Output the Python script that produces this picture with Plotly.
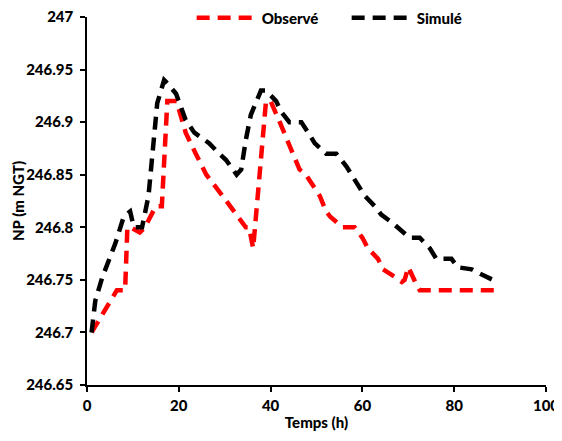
import plotly.graph_objects as go

# Observé (measured)
obs_t = [1, 4.5, 6.5, 8.3, 8.8, 9.5, 11.5, 12.6, 15, 16.3, 17.5, 19.5, 21.5, 23.7, 26, 29.5,
         34.6, 35.3, 36.2, 39, 40, 42, 44, 46.3, 47.7, 49.9, 50.7, 52.1, 53, 55.7, 58.3,
         60, 61.2, 63.4, 64.5, 67, 68.6, 69.2, 70, 71.5, 72.5, 89.5]
obs_v = [246.70, 246.725, 246.74, 246.74, 246.80, 246.80, 246.795, 246.80, 246.82, 246.82,
         246.92, 246.92, 246.89, 246.87, 246.85, 246.83,
         246.80, 246.80, 246.78, 246.92, 246.92, 246.90, 246.88, 246.855, 246.85, 246.835,
         246.83, 246.815, 246.81, 246.80, 246.80,
         246.79, 246.78, 246.77, 246.76, 246.753, 246.748, 246.75, 246.762, 246.748, 246.74, 246.74]

# Simulé (model)
sim_t = [1, 1.8, 3.3, 6.2, 8, 9.4, 10.2, 12, 13.4, 14.2, 15.3, 16.8, 17.5, 19.4, 21.5, 23.4,
         26.6, 28.8, 30.3, 32.6, 33.6, 34.6, 35.7, 37.9, 39, 41.2, 42.3, 44.1, 46.7, 48.5,
         49.6, 52.1, 54.3, 56.5, 59.4, 60.5, 62.7, 64.1, 66.6, 67.7, 70.3, 72.5, 74.7, 76.1,
         79.4, 80.8, 83.8, 86, 88.4, 89.5]
sim_v = [246.70, 246.73, 246.752, 246.785, 246.81, 246.815, 246.80, 246.80, 246.83, 246.864,
         246.918, 246.94, 246.937, 246.927, 246.902, 246.89,
         246.88, 246.87, 246.864, 246.85, 246.855, 246.883, 246.907, 246.93, 246.93, 246.92,
         246.91, 246.90, 246.90, 246.888,
         246.88, 246.87, 246.87, 246.858, 246.838, 246.83, 246.82, 246.812, 246.804, 246.80,
         246.79, 246.79, 246.78, 246.77,
         246.77, 246.762, 246.76, 246.755, 246.75, 246.75]

x_ticks = [0, 20, 40, 60, 80, 100]
y_ticks = [246.65, 246.7, 246.75, 246.8, 246.85, 246.9, 246.95, 247]
y_labels = ["246.65", "246.7", "246.75", "246.8", "246.85", "246.9", "246.95", "247"]

FONT = "Lato"
W = 900

fig = go.Figure()
fig.add_trace(go.Scatter(x=obs_t, y=obs_v, mode="lines", name="Observé",
                         line=dict(color="#ff0000", width=4.5, dash="13px,8px")))
fig.add_trace(go.Scatter(x=sim_t, y=sim_v, mode="lines", name="Simulé",
                         line=dict(color="#000000", width=4.5, dash="13px,8px")))

fig.update_layout(
    width=554, height=433,
    margin=dict(l=79, r=16, t=9, b=56, autoexpand=False),
    paper_bgcolor="white", plot_bgcolor="white",
    font=dict(family=FONT, size=15, color="black", weight=W),
    showlegend=True,
    legend=dict(orientation="h", x=0.228, y=0.997, xanchor="left", yanchor="middle",
                bgcolor="rgba(0,0,0,0)", entrywidth=80, entrywidthmode="pixels",
                itemwidth=60,
                font=dict(family=FONT, size=15, color="black", weight=W)),
    xaxis=dict(range=[0, 100], tickvals=x_ticks, ticks="outside", ticklen=5,
               tickcolor="black", tickwidth=1.5, showline=True, linecolor="black",
               linewidth=1.5, showgrid=False, zeroline=False, ticklabelstandoff=1,
               ticklabeloverflow="allow",
               title=dict(text="Temps (h)", standoff=5,
                          font=dict(family=FONT, size=15, weight=W))),
    yaxis=dict(range=[246.65, 247], tickvals=y_ticks, ticktext=y_labels, ticks="outside",
               ticklen=5, tickcolor="black", tickwidth=1.5, showline=True,
               linecolor="black", linewidth=1.5, showgrid=False, zeroline=False,
               ticklabelstandoff=4, ticklabeloverflow="allow"),
    annotations=[dict(text="NP (m NGT)", textangle=-90, xref="paper", yref="paper",
                      x=-69 / 459, y=0.5, xanchor="center", yanchor="middle",
                      showarrow=False, font=dict(family=FONT, size=15, weight=W))],
)

fig.write_html("out.html")
